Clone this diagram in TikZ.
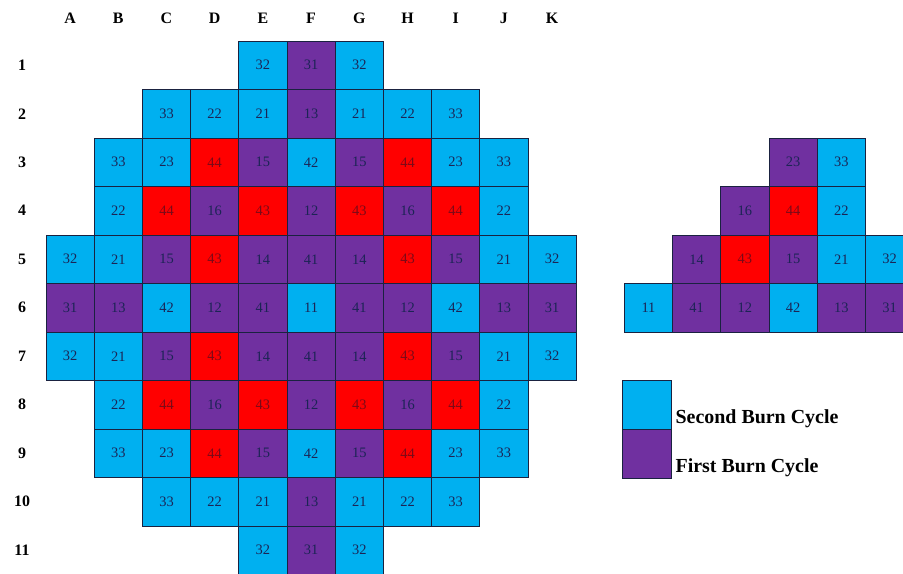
\documentclass[tikz,border=0pt]{standalone}
\usepackage{fontspec}
\setmainfont{Liberation Serif}
\usepackage{tikz}
\usetikzlibrary{positioning}
\definecolor{burnB}{HTML}{00B0F0}
\definecolor{burnP}{HTML}{7030A0}
\definecolor{burnR}{HTML}{FF0000}
\definecolor{numInk}{HTML}{1C2455}
\definecolor{numRed}{HTML}{7A0A18}
\definecolor{gridLine}{HTML}{1A2240}

\begin{document}
\begin{tikzpicture}[
    x=1bp, y=-1bp,
    % fuel assembly cells
    cell/.style={rectangle, draw=gridLine, line width=0.9bp, minimum width=48.2bp,
                 minimum height=48.5bp, inner sep=0pt, text=numInk,
                 font=\fontsize{14.5}{16}\selectfont},
    fuelB/.style={cell, fill=burnB},
    fuelP/.style={cell, fill=burnP},
    fuelR/.style={cell, fill=burnR, text=numRed},
    lab/.style={inner sep=0pt, font=\fontsize{16}{18}\selectfont\bfseries},
    legtxt/.style={inner sep=0pt, anchor=base west, font=\fontsize{20}{24}\selectfont\bfseries},
]

\clip (0,0) rectangle (903,574);

% -------------------------
% Column and row labels
% -------------------------
\foreach \l [count=\i from 0] in {A,B,C,D,E,F,G,H,I,J,K}{
  \node[lab] (col-\l) at ({70.1+48.2*\i}, 18) {\l};
}
\foreach \n in {1,...,11}{
  \node[lab] (row-\n) at (22, {65.25+48.5*(\n-1)}) {\n};
}

% -------------------------
% Full core map
% -------------------------
\foreach \rw/\cells in {
  1/{4/32/fuelB,5/31/fuelP,6/32/fuelB},
  2/{2/33/fuelB,3/22/fuelB,4/21/fuelB,5/13/fuelP,6/21/fuelB,7/22/fuelB,8/33/fuelB},
  3/{1/33/fuelB,2/23/fuelB,3/44/fuelR,4/15/fuelP,5/42/fuelB,6/15/fuelP,7/44/fuelR,8/23/fuelB,9/33/fuelB},
  4/{1/22/fuelB,2/44/fuelR,3/16/fuelP,4/43/fuelR,5/12/fuelP,6/43/fuelR,7/16/fuelP,8/44/fuelR,9/22/fuelB},
  5/{0/32/fuelB,1/21/fuelB,2/15/fuelP,3/43/fuelR,4/14/fuelP,5/41/fuelP,6/14/fuelP,7/43/fuelR,8/15/fuelP,9/21/fuelB,10/32/fuelB},
  6/{0/31/fuelP,1/13/fuelP,2/42/fuelB,3/12/fuelP,4/41/fuelP,5/11/fuelB,6/41/fuelP,7/12/fuelP,8/42/fuelB,9/13/fuelP,10/31/fuelP},
  7/{0/32/fuelB,1/21/fuelB,2/15/fuelP,3/43/fuelR,4/14/fuelP,5/41/fuelP,6/14/fuelP,7/43/fuelR,8/15/fuelP,9/21/fuelB,10/32/fuelB},
  8/{1/22/fuelB,2/44/fuelR,3/16/fuelP,4/43/fuelR,5/12/fuelP,6/43/fuelR,7/16/fuelP,8/44/fuelR,9/22/fuelB},
  9/{1/33/fuelB,2/23/fuelB,3/44/fuelR,4/15/fuelP,5/42/fuelB,6/15/fuelP,7/44/fuelR,8/23/fuelB,9/33/fuelB},
  10/{2/33/fuelB,3/22/fuelB,4/21/fuelB,5/13/fuelP,6/21/fuelB,7/22/fuelB,8/33/fuelB},
  11/{4/32/fuelB,5/31/fuelP,6/32/fuelB}}{
  \foreach \cl/\val/\sty in \cells{
    \node[\sty] (core-\rw-\cl) at ({70.1+48.2*\cl}, {65.25+48.5*(\rw-1)}) {\val};
  }
}

% -------------------------
% Eighth-core section (right)
% -------------------------
\foreach \rw/\cells in {
  3/{15/23/fuelP,16/33/fuelB},
  4/{14/16/fuelP,15/44/fuelR,16/22/fuelB},
  5/{13/14/fuelP,14/43/fuelR,15/15/fuelP,16/21/fuelB,17/32/fuelB},
  6/{12/11/fuelB,13/41/fuelP,14/12/fuelP,15/42/fuelB,16/13/fuelP,17/31/fuelP}}{
  \foreach \cl/\val/\sty in \cells{
    \node[\sty] (sec-\rw-\cl) at ({70.1+48.2*\cl}, {65.25+48.5*(\rw-1)}) {\val};
  }
}

% -------------------------
% Legend
% -------------------------
\node[fuelB] (legB) at (646.9, 404.75) {};
\node[fuelP, below=0pt of legB] (legP) {};
\node[legtxt] (legBtxt) at ([xshift=4bp, yshift=6bp]legB.south east) {Second Burn Cycle};
\node[legtxt] (legPtxt) at ([xshift=4bp, yshift=6bp]legP.south east) {First Burn Cycle};

\end{tikzpicture}
\end{document}
